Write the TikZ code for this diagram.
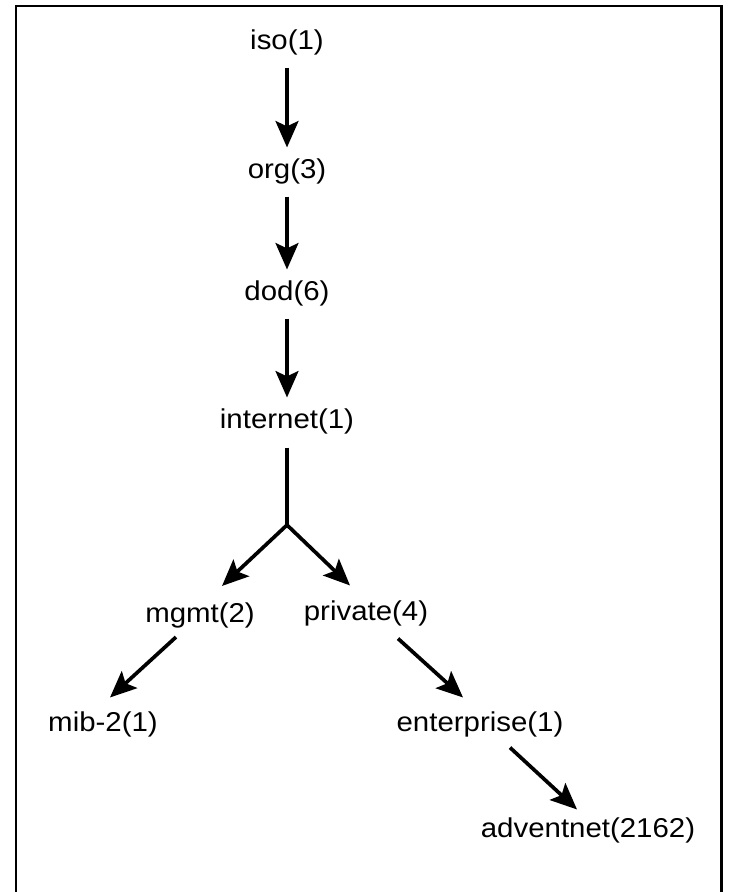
\documentclass[tikz,border=0pt]{standalone}
\usepackage{fontspec}
\setmainfont{Liberation Sans}[FakeStretch=1.08]
\usetikzlibrary{arrows.meta}

\begin{document}
\begin{tikzpicture}[>={Stealth[length=15pt,width=13pt,inset=3pt]},
oid/.style={inner sep=0pt,font=\fontsize{15.5}{18}\selectfont
}]

\useasboundingbox (0,0) rectangle (14.58,-17.84);
\draw[line width=1.7pt] (0.32,-17.84)--(0.32,-0.12)--(14.42,-0.12)--(14.42,-17.84);

\node[oid](iso) at (5.74,-0.85){iso(1)};
\node[oid](org) at (5.74,-3.43){org(3)};
\node[oid](dod) at (5.74,-5.87){dod(6)};
\node[oid](internet) at (5.74,-8.43){internet(1)};
\coordinate(split) at (5.74,-10.5);

\node[oid](mgmt) at (4.0,-12.3){mgmt(2)};
\node[oid](private) at (7.32,-12.27){private(4)};

\node[oid](mib) at (2.06,-14.49){mib-2(1)};
\node[oid](enterprise) at (9.6,-14.49){enterprise(1)};

\node[oid](adventnet) at (11.76,-16.61){adventnet(2162)};

\begin{scope}[->, line width=2.1pt, shorten <=.24cm, shorten >=.22cm]
\draw (iso)--(org);
\draw (org)--(dod);
\draw (dod)--(internet);
\end{scope}

\begin{scope}[->, line width=2.1pt]
\draw[-, shorten <=.26cm] (internet)--(split);
\draw (split)--([xshift=.44cm,yshift=.32cm]mgmt.north);
\draw (split)--([xshift=-.32cm,yshift=.3cm]private.north);
\draw ([xshift=-.48cm,yshift=-.18cm]mgmt.south)--([xshift=.14cm,yshift=.28cm]mib.north);
\draw ([xshift=.64cm,yshift=-.24cm]private.south)--([xshift=-.34cm,yshift=.28cm]enterprise.north);
\draw ([xshift=.6cm,yshift=-.2cm]enterprise.south)--([xshift=-.22cm,yshift=.16cm]adventnet.north);
\end{scope}

\end{tikzpicture}
\end{document}
